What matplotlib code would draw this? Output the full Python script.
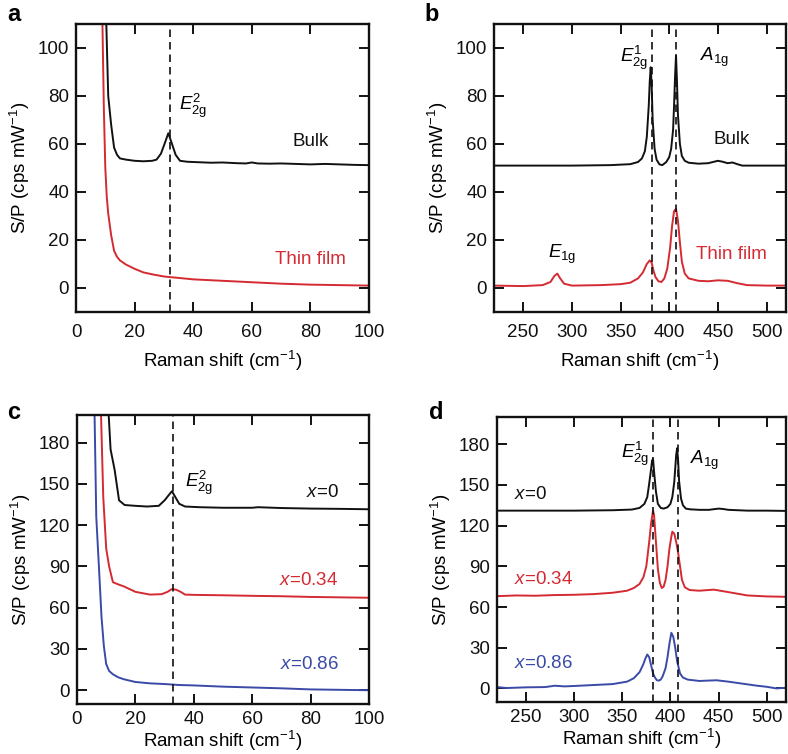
import matplotlib
matplotlib.use("Agg")
import matplotlib.pyplot as plt

plt.rcParams['font.family'] = ['Liberation Sans', 'DejaVu Sans']
plt.rcParams['mathtext.fontset'] = 'custom'
plt.rcParams['mathtext.rm'] = 'Liberation Sans'
plt.rcParams['mathtext.it'] = 'Liberation Sans:italic'

BLACK = '#111111'
RED = '#d42a32'
BLUE = '#3a4aa6'

# ---------------- panel a (low frequency, bulk vs thin film) ----------------
a_bulk_x = [10.3, 11, 12, 13, 14, 15, 17, 20, 23, 26, 27.5, 29, 30.5, 31.5, 32.5, 34, 35.5,
            38, 42, 46, 50, 55, 58, 60, 62, 66, 70, 75, 80, 85, 90, 95, 100]
a_bulk_y = [112, 80, 68, 58.5, 55.5, 54, 53.5, 53, 52.8, 53, 53.5, 56, 61, 64.5, 61, 55.5, 53,
            52.6, 52.4, 52.2, 52.3, 52, 51.9, 52.3, 51.9, 51.8, 51.9, 51.7, 51.5, 51.7, 51.5, 51.3, 51.2]
a_film_x = [9, 9.5, 10, 10.5, 11, 12, 13, 14, 15, 17, 20, 23, 26, 30, 35, 40, 50, 60, 70, 80, 90, 100]
a_film_y = [112, 75, 50, 38, 31, 22, 15.5, 13, 11.5, 9.8, 8, 6.5, 5.7, 4.8, 4.2, 3.6, 3, 2.4, 1.8, 1.4, 1.2, 1.0]
a_dash = [32]

# ---------------- panel b (high frequency, bulk vs thin film) ----------------
b_bulk_x = [220, 260, 300, 340, 360, 368, 372, 375, 377, 379, 380, 381, 382, 383, 385, 387, 390,
            393, 397, 400, 402, 404, 405, 406, 407, 408, 409, 411, 413, 416, 420, 430, 440, 450,
            455, 460, 465, 470, 475, 490, 520]
b_bulk_y = [51, 51, 51, 51.2, 51.6, 52.5, 54, 57, 63, 76, 86, 92, 84, 70, 58, 53.5, 51.5,
            51.2, 52.5, 54.5, 58, 66, 76, 88, 97, 86, 72, 60, 55, 53, 52.2, 51.8, 52, 53,
            52.6, 52, 52.3, 51.6, 51, 51, 51]
b_film_x = [220, 250, 270, 278, 282, 285, 288, 292, 300, 330, 350, 360, 368, 373, 377, 380, 382,
            384, 386, 389, 392, 395, 398, 401, 403, 405, 407, 409, 411, 413, 416, 420, 430, 440,
            450, 460, 470, 480, 500, 520]
b_film_y = [1, 0.8, 1.2, 2.5, 5, 6, 4, 1.8, 1, 1.2, 1.6, 2.2, 4, 6.5, 10, 11.5, 10.5,
            7, 4.5, 2.8, 2.5, 4, 8, 17, 26, 32, 33, 28, 19, 11, 6, 4, 3, 2.8,
            3.2, 3, 2, 1.2, 1, 1]
b_dash = [382, 407]

# ---------------- panel c (low frequency, composition series) ----------------
c_x0_x = [10.8, 11.5, 12.9, 14.4, 16.3, 20, 24, 28, 30, 31.5, 32.5, 33.5, 35, 37, 42, 50, 60,
          62, 70, 80, 90, 100]
c_x0_y = [202, 175, 160, 138, 134.6, 134, 133.5, 134, 138, 142, 144.6, 141, 135.5, 133.5, 133,
          132.6, 132.6, 133, 132.4, 132, 131.8, 131.5]
c_x34_x = [8.2, 9, 10, 11, 12.3, 14, 16, 18, 20, 25, 29, 31, 32.5, 34, 35.5, 37, 40, 50, 60,
           70, 80, 90, 100]
c_x34_y = [202, 140, 103, 90, 78.5, 77, 75.5, 73.5, 71.5, 69.5, 69.8, 71.5, 73.5, 73, 71.5,
           69.5, 69.3, 69, 68.6, 68.3, 67.8, 67.5, 67.2]
c_x86_x = [6.0, 6.6, 7.5, 8.4, 9.2, 10, 11, 12.3, 14, 16, 20, 25, 30, 35, 40, 50, 60, 70, 80,
           90, 100]
c_x86_y = [202, 126, 90, 53, 32, 19, 14, 11.6, 9.5, 8, 6, 5, 4.5, 3.8, 3.5, 2.6, 2, 1.4, 0.6,
           0.3, 0]
c_dash = [33]

# ---------------- panel d (high frequency, composition series) ----------------
d_x0_x = [220, 260, 300, 340, 360, 368, 373, 376, 378, 380, 381, 382, 383, 385, 387, 390, 393,
          397, 400, 402, 404, 405, 406, 407, 408, 409, 411, 413, 416, 420, 430, 440, 450, 455,
          460, 470, 480, 500, 520]
d_x0_y = [131, 131, 131, 131.3, 131.8, 133, 136, 141, 151, 162, 168, 169, 160, 145, 136, 133,
          132.5, 133.5, 136, 141, 152, 162, 172, 177, 168, 153, 140, 135, 132.5, 132, 131.6,
          131.6, 132.5, 132.2, 131.6, 131.3, 131, 131, 130.8]
d_x34_x = [220, 240, 260, 280, 300, 320, 340, 355, 362, 368, 372, 375, 378, 380, 382, 383, 385,
           387, 389, 391, 393, 395, 397, 399, 401, 402, 404, 406, 408, 410, 412, 415, 420, 430,
           445, 460, 480, 500, 520]
d_x34_y = [68, 68.5, 68.3, 68.8, 69, 69.5, 70.5, 72, 74, 77, 82, 90, 108, 122, 131, 128, 108,
           88, 78, 74, 75, 80, 90, 103, 112, 115.5, 114, 108, 100, 90, 80, 74.5, 72.5, 72,
           72.8, 71, 68.5, 67.8, 67.5]
d_x86_x = [220, 230, 250, 270, 280, 290, 300, 320, 340, 355, 362, 368, 372, 374, 376, 378, 380,
           382, 384, 386, 388, 390, 392, 395, 397, 399, 401, 403, 405, 407, 410, 413, 418, 430,
           440, 448, 460, 470, 480, 490, 500, 510, 520]
d_x86_y = [1, 0.3, 0.8, 1, 2, 1.5, 1.8, 2.5, 3.2, 5, 7.5, 12, 18, 22, 25, 23, 17,
           11, 8, 6, 5.8, 6.5, 9, 15, 23, 33, 41, 38, 30, 20, 11, 8, 6.5, 5.5,
           5.8, 6, 5, 4, 3, 2, 1.2, 0, 0.5]
d_dash = [382, 407.5]

W, H = 788, 754
fig = plt.figure(figsize=(W / 100, H / 100), dpi=100)


def make_ax(l, t, r, b):
    return fig.add_axes([l / W, 1 - b / H, (r - l) / W, (b - t) / H])


def style(ax, xlim, ylim, xticks, yticks, xpad, xlabelpad):
    ax.set_xlim(*xlim)
    ax.set_ylim(*ylim)
    ax.set_xticks(xticks)
    ax.set_yticks(yticks)
    ax.tick_params(direction='in', length=7, width=1.4, top=True, right=True,
                   labelsize=13.5, pad=5, colors='#111111')
    ax.tick_params(axis='x', pad=xpad)
    for s in ax.spines.values():
        s.set_linewidth(1.7)
        s.set_color('#111111')
    ax.set_xlabel('Raman shift (cm$^{-1}$)', fontsize=13.5, labelpad=xlabelpad)
    ax.set_ylabel('S/P (cps mW$^{-1}$)', fontsize=13.5, labelpad=4)


lw = 1.4
fs = 13.5
dash = (0, (4.5, 3))

# panel a
ax = make_ax(76, 24, 369, 312)
ax.plot(a_bulk_x, a_bulk_y, color=BLACK, lw=lw)
ax.plot(a_film_x, a_film_y, color=RED, lw=lw)
for d in a_dash:
    ax.axvline(d, color=BLACK, lw=1.2, ls=dash)
style(ax, (0, 100), (-10, 110), [0, 20, 40, 60, 80, 100], [0, 20, 40, 60, 80, 100], 8.5, 6)
ax.text(35, 76, r'$E^{2}_{2\mathrm{g}}$', fontsize=fs, ha='left', va='center')
ax.text(80, 61, 'Bulk', fontsize=fs, ha='center', va='center', color=BLACK)
ax.text(80, 12, 'Thin film', fontsize=fs, ha='center', va='center', color=RED)

# panel b
ax = make_ax(494, 24, 786, 312)
ax.plot(b_bulk_x, b_bulk_y, color=BLACK, lw=lw)
ax.plot(b_film_x, b_film_y, color=RED, lw=lw)
for d in b_dash:
    ax.axvline(d, color=BLACK, lw=1.2, ls=dash)
style(ax, (220, 520), (-10, 110), [250, 300, 350, 400, 450, 500], [0, 20, 40, 60, 80, 100], 8.5, 6)
ax.text(378, 96, r'$E^{1}_{2\mathrm{g}}$', fontsize=fs, ha='right', va='center')
ax.text(432, 96, r'$A_{1\mathrm{g}}$', fontsize=fs, ha='left', va='center')
ax.text(464, 62, 'Bulk', fontsize=fs, ha='center', va='center', color=BLACK)
ax.text(464, 14, 'Thin film', fontsize=fs, ha='center', va='center', color=RED)
ax.text(290, 14, r'$E_{1\mathrm{g}}$', fontsize=fs, ha='center', va='center')

# panel c
ax = make_ax(77, 415, 369, 704)
ax.plot(c_x0_x, c_x0_y, color=BLACK, lw=lw)
ax.plot(c_x34_x, c_x34_y, color=RED, lw=lw)
ax.plot(c_x86_x, c_x86_y, color=BLUE, lw=lw)
for d in c_dash:
    ax.axvline(d, color=BLACK, lw=1.2, ls=dash)
style(ax, (0, 100), (-10, 200), [0, 20, 40, 60, 80, 100], [0, 30, 60, 90, 120, 150, 180], 5, 0.5)
ax.text(37, 151, r'$E^{2}_{2\mathrm{g}}$', fontsize=fs, ha='left', va='center')
ax.text(89.5, 144, r'$x$=0', fontsize=fs, ha='right', va='center', color=BLACK)
ax.text(89.5, 80, r'$x$=0.34', fontsize=fs, ha='right', va='center', color=RED)
ax.text(89.5, 18.5, r'$x$=0.86', fontsize=fs, ha='right', va='center', color=BLUE)

# panel d
ax = make_ax(497, 417, 786, 702)
ax.plot(d_x0_x, d_x0_y, color=BLACK, lw=lw)
ax.plot(d_x34_x, d_x34_y, color=RED, lw=lw)
ax.plot(d_x86_x, d_x86_y, color=BLUE, lw=lw)
for d in d_dash:
    ax.axvline(d, color=BLACK, lw=1.2, ls=dash)
style(ax, (220, 520), (-10, 200), [250, 300, 350, 400, 450, 500], [0, 30, 60, 90, 120, 150, 180], 5, 0.5)
ax.text(378, 173, r'$E^{1}_{2\mathrm{g}}$', fontsize=fs, ha='right', va='center')
ax.text(420, 168, r'$A_{1\mathrm{g}}$', fontsize=fs, ha='left', va='center')
ax.text(238, 143, r'$x$=0', fontsize=fs, ha='left', va='center', color=BLACK)
ax.text(238, 80, r'$x$=0.34', fontsize=fs, ha='left', va='center', color=RED)
ax.text(238, 18, r'$x$=0.86', fontsize=fs, ha='left', va='center', color=BLUE)

# panel letters
for lbl, px, py in [('a', 7, 3), ('b', 424, 3), ('c', 7, 401), ('d', 429, 401)]:
    fig.text(px / W, 1 - py / H, lbl, fontsize=17, fontweight='bold', ha='left', va='top')

fig.savefig('out.png', dpi=100)
